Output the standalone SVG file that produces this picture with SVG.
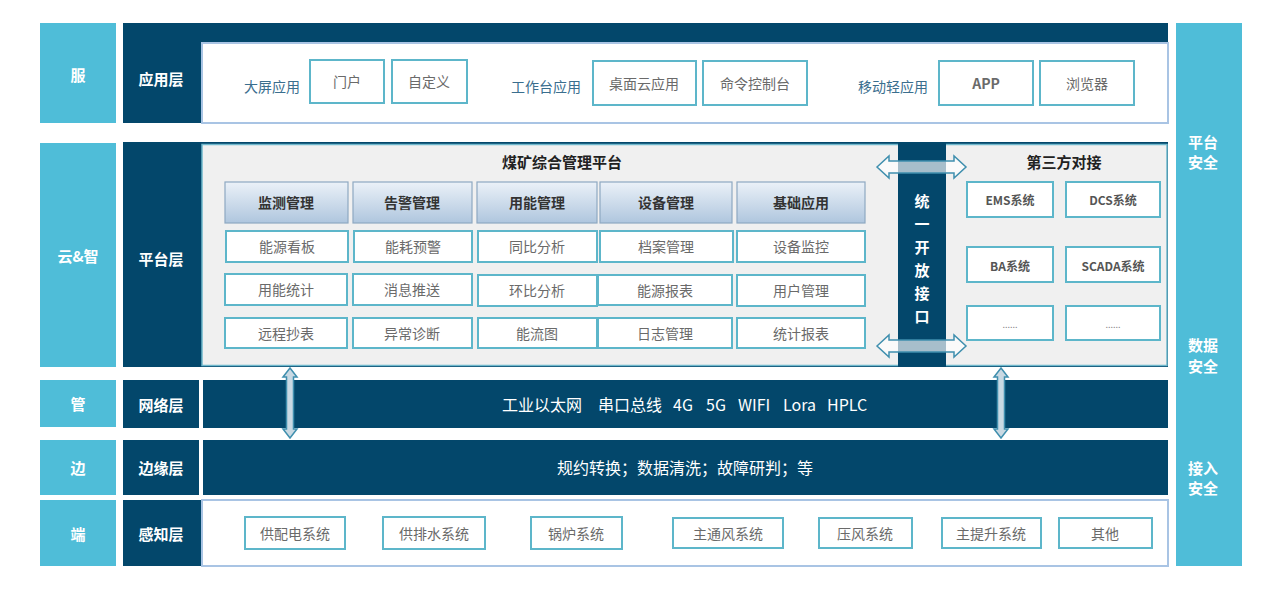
<svg xmlns="http://www.w3.org/2000/svg" width="1268" height="593" viewBox="0 0 1268 593">
<defs>
<linearGradient id="hdr" x1="0" y1="0" x2="0" y2="1">
<stop offset="0" stop-color="#EBF1F8"/>
<stop offset="1" stop-color="#AFC6DE"/>
</linearGradient>
<style>
text{font-family:"Noto Sans CJK SC","Noto Sans",sans-serif;dominant-baseline:central;text-anchor:middle}
.side{fill:#4FBDD8}
.dark{fill:#03476B}
.wl{fill:#fff;font-size:15px;font-weight:bold}
.sec{fill:#fff;font-size:15px;font-weight:bold}
.box{fill:#fff;stroke:#5DB6CA;stroke-width:2}
.bt{fill:#6A6A6A;font-size:14px}
.lab{fill:#3A6E8E;font-size:14px}
.hd{fill:url(#hdr);stroke:#8EA8C2;stroke-width:1.2}
.ht{fill:#333;font-size:14px;font-weight:bold}
.tp{fill:#fff;stroke:#5DB6CA;stroke-width:2}
.tt{fill:#555;font-size:12px;font-weight:bold}
.wb{fill:#fff;stroke:#A9C4E4;stroke-width:2}
.arr{fill:#fff;fill-opacity:0.65;stroke:#3F8FAE;stroke-width:1.5}
.varr{fill:#C9D9E3;stroke:#3F8FAE;stroke-width:1.5}
.bandt{fill:#fff;font-size:16px}
</style>
</defs>
<rect width="1268" height="593" fill="#fff"/>

<g id="left-column">
<rect class="side" x="40" y="23" width="76" height="100"/>
<text class="wl" x="78" y="74">服</text>
<rect class="side" x="40" y="143" width="76" height="224"/>
<text class="wl" x="78" y="255">云&amp;智</text>
<rect class="side" x="40" y="380" width="76" height="47"/>
<text class="wl" x="78" y="403">管</text>
<rect class="side" x="40" y="440" width="76" height="55"/>
<text class="wl" x="78" y="467">边</text>
<rect class="side" x="40" y="500" width="76" height="66"/>
<text class="wl" x="78" y="533">端</text>
</g>

<g id="right-column">
<rect class="side" x="1176" y="23" width="66" height="543"/>
<text class="sec" x="1203" y="141">平台</text>
<text class="sec" x="1203" y="161">安全</text>
<text class="sec" x="1203" y="344">数据</text>
<text class="sec" x="1203" y="365">安全</text>
<text class="sec" x="1203" y="467">接入</text>
<text class="sec" x="1203" y="487">安全</text>
</g>

<g id="app-layer">
<rect class="dark" x="123" y="23" width="1045" height="100"/>
<rect class="wb" x="202" y="43" width="966" height="80"/>
<text class="wl" x="161" y="78">应用层</text>
<text class="lab" x="272" y="86">大屏应用</text>
<rect class="box" x="310" y="60" width="74" height="43"/>
<text class="bt" x="347" y="81">门户</text>
<rect class="box" x="392" y="60" width="75" height="43"/>
<text class="bt" x="429" y="81">自定义</text>
<text class="lab" x="546" y="86">工作台应用</text>
<rect class="box" x="593" y="61" width="103" height="44"/>
<text class="bt" x="644" y="83">桌面云应用</text>
<rect class="box" x="703" y="61" width="104" height="44"/>
<text class="bt" x="755" y="83">命令控制台</text>
<text class="lab" x="893" y="86">移动轻应用</text>
<rect class="box" x="939" y="61" width="94" height="44"/>
<text class="bt" x="986" y="83" style="font-weight:bold">APP</text>
<rect class="box" x="1040" y="61" width="94" height="44"/>
<text class="bt" x="1087" y="83">浏览器</text>
</g>

<g id="platform-layer">
<rect class="dark" x="123" y="142" width="1045" height="225"/>
<rect x="202" y="144.5" width="965" height="221" fill="#F0F0F0" stroke="#6FB8CC" stroke-width="1.5"/>
<text class="wl" x="161" y="258">平台层</text>
<text x="562" y="161" style="font-size:15px;font-weight:bold;fill:#222">煤矿综合管理平台</text>
</g>

<g id="platform-modules">
<rect class="hd" x="225" y="182" width="123" height="41"/>
<text class="ht" x="286" y="202">监测管理</text>
<rect class="hd" x="353" y="182" width="119" height="41"/>
<text class="ht" x="412" y="202">告警管理</text>
<rect class="hd" x="477" y="182" width="120" height="41"/>
<text class="ht" x="537" y="202">用能管理</text>
<rect class="hd" x="600" y="182" width="132" height="41"/>
<text class="ht" x="666" y="202">设备管理</text>
<rect class="hd" x="737" y="182" width="128" height="41"/>
<text class="ht" x="801" y="202">基础应用</text>

<rect class="box" x="226" y="231" width="122" height="31"/>
<text class="bt" x="287" y="246">能源看板</text>
<rect class="box" x="354" y="231" width="118" height="31"/>
<text class="bt" x="413" y="246">能耗预警</text>
<rect class="box" x="478" y="231" width="119" height="31"/>
<text class="bt" x="537" y="246">同比分析</text>
<rect class="box" x="600" y="231" width="133" height="31"/>
<text class="bt" x="666" y="246">档案管理</text>
<rect class="box" x="737" y="231" width="128" height="31"/>
<text class="bt" x="801" y="246">设备监控</text>

<rect class="box" x="225" y="274" width="122" height="31"/>
<text class="bt" x="286" y="289">用能统计</text>
<rect class="box" x="353" y="274" width="119" height="31"/>
<text class="bt" x="412" y="289">消息推送</text>
<rect class="box" x="478" y="275" width="119" height="31"/>
<text class="bt" x="537" y="290">环比分析</text>
<rect class="box" x="598" y="275" width="134" height="30"/>
<text class="bt" x="665" y="290">能源报表</text>
<rect class="box" x="737" y="275" width="128" height="31"/>
<text class="bt" x="801" y="290">用户管理</text>

<rect class="box" x="225" y="318" width="122" height="30"/>
<text class="bt" x="286" y="333">远程抄表</text>
<rect class="box" x="353" y="318" width="119" height="30"/>
<text class="bt" x="412" y="333">异常诊断</text>
<rect class="box" x="478" y="318" width="119" height="30"/>
<text class="bt" x="537" y="333">能流图</text>
<rect class="box" x="598" y="318" width="134" height="30"/>
<text class="bt" x="665" y="333">日志管理</text>
<rect class="box" x="737" y="318" width="128" height="30"/>
<text class="bt" x="801" y="333">统计报表</text>
</g>

<g id="open-interface">
<rect class="dark" x="898" y="142" width="48" height="225"/>
<text class="sec" x="922" y="200">统</text>
<text class="sec" x="922" y="223">一</text>
<text class="sec" x="922" y="246">开</text>
<text class="sec" x="922" y="269">放</text>
<text class="sec" x="922" y="292">接</text>
<text class="sec" x="922" y="315">口</text>
</g>

<g id="third-party">
<text x="1064" y="161" style="font-size:15px;font-weight:bold;fill:#222">第三方对接</text>
<rect class="tp" x="967" y="182" width="86" height="35"/>
<text class="tt" x="1010" y="199">EMS系统</text>
<rect class="tp" x="1066" y="182" width="94" height="35"/>
<text class="tt" x="1113" y="199">DCS系统</text>
<rect class="tp" x="967" y="247" width="86" height="35"/>
<text class="tt" x="1010" y="265">BA系统</text>
<rect class="tp" x="1066" y="247" width="94" height="35"/>
<text class="tt" x="1113" y="265">SCADA系统</text>
<rect class="tp" x="967" y="306" width="86" height="34"/>
<text x="1010" y="324" style="font-size:9px;fill:#888">......</text>
<rect class="tp" x="1066" y="306" width="94" height="34"/>
<text x="1113" y="324" style="font-size:9px;fill:#888">......</text>
</g>

<g id="network-layer">
<rect class="dark" x="123" y="380" width="76" height="48"/>
<text class="wl" x="161" y="404">网络层</text>
<rect class="dark" x="203" y="380" width="965" height="48"/>
<text class="bandt" y="404" style="text-anchor:start"><tspan x="502">工业以太网</tspan><tspan x="598">串口总线</tspan><tspan x="673">4G</tspan><tspan x="706">5G</tspan><tspan x="738">WIFI</tspan><tspan x="783">Lora</tspan><tspan x="827">HPLC</tspan></text>
</g>

<g id="edge-layer">
<rect class="dark" x="123" y="440" width="76" height="55"/>
<text class="wl" x="161" y="467">边缘层</text>
<rect class="dark" x="203" y="440" width="965" height="55"/>
<text class="bandt" x="685" y="467">规约转换；数据清洗；故障研判；等</text>
</g>

<g id="sensing-layer">
<rect class="dark" x="123" y="500" width="79" height="66"/>
<text class="wl" x="161" y="533">感知层</text>
<rect class="wb" x="202" y="500" width="966" height="66"/>
<rect class="box" x="245" y="517" width="100" height="32"/>
<text class="bt" x="295" y="533">供配电系统</text>
<rect class="box" x="383" y="517" width="102" height="32"/>
<text class="bt" x="434" y="533">供排水系统</text>
<rect class="box" x="531" y="517" width="91" height="32"/>
<text class="bt" x="576" y="533">锅炉系统</text>
<rect class="box" x="673" y="518" width="110" height="30"/>
<text class="bt" x="728" y="533">主通风系统</text>
<rect class="box" x="819" y="518" width="93" height="30"/>
<text class="bt" x="865" y="533">压风系统</text>
<rect class="box" x="942" y="518" width="99" height="30"/>
<text class="bt" x="991" y="533">主提升系统</text>
<rect class="box" x="1059" y="518" width="93" height="30"/>
<text class="bt" x="1105" y="533">其他</text>
</g>

<g id="connectors">
<path class="arr" d="M877,167 L889,156 L889,161 L954,161 L954,156 L966,167 L954,178 L954,173 L889,173 L889,178 Z"/>
<path class="arr" d="M877,346 L889,335 L889,340 L954,340 L954,335 L966,346 L954,357 L954,352 L889,352 L889,357 Z"/>
<path class="varr" d="M290,368 L297,377 L293.5,377 L293.5,429 L297,429 L290,438 L283,429 L286.5,429 L286.5,377 L283,377 Z"/>
<path class="varr" d="M1001,368 L1008,377 L1004.5,377 L1004.5,429 L1008,429 L1001,438 L994,429 L997.5,429 L997.5,377 L994,377 Z"/>
</g>
</svg>
